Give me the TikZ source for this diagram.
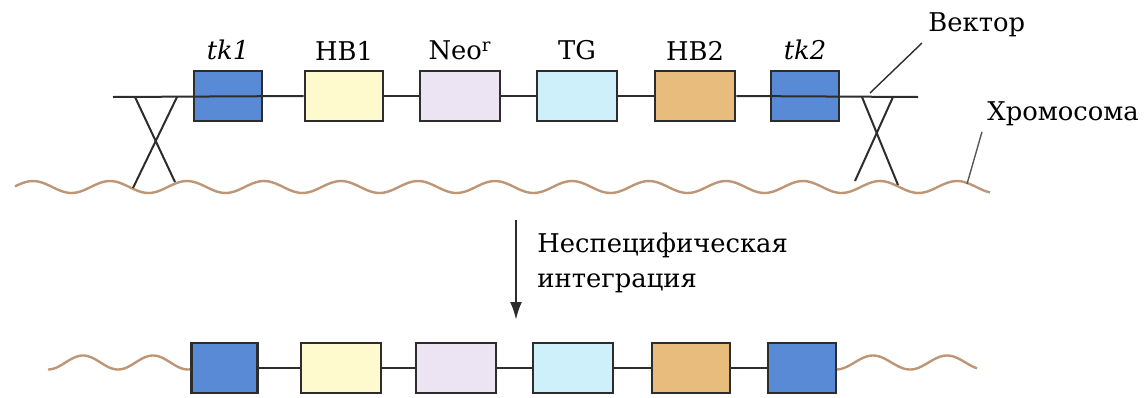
\documentclass[tikz,border=0pt]{standalone}
\usepackage{fontspec}
\setmainfont{DejaVu Serif}
\usetikzlibrary{calc,arrows.meta,positioning}

\definecolor{tkblue}{RGB}{88,138,214}
\definecolor{hbyellow}{RGB}{254,250,206}
\definecolor{neolilac}{RGB}{236,228,243}
\definecolor{tgcyan}{RGB}{206,240,250}
\definecolor{hbtan}{RGB}{231,188,124}
\definecolor{chromo}{RGB}{190,150,118}
\definecolor{edge}{RGB}{45,45,45}

\begin{document}
\begin{tikzpicture}[x=0.5pt,y=-0.5pt,
    gene/.style={draw=edge,line width=1.3pt,minimum height=25pt,inner sep=0pt},
    chrom/.style={draw=chromo,line width=1.2pt},
    lbl/.style={font=\fontsize{12.9}{17.5}\selectfont,inner sep=0pt},
    wire/.style={draw=edge,line width=1pt}]
\useasboundingbox (0,0) rectangle (1146,397);

% vector
\node[gene,fill=tkblue,minimum width=34pt]   (tkA) at (228,96) {};
\node[gene,fill=hbyellow,minimum width=39pt] (hbA) at (344,96) {};
\node[gene,fill=neolilac,minimum width=40pt] (neo) at (460,96) {};
\node[gene,fill=tgcyan,minimum width=40pt]   (tg)  at (577,96) {};
\node[gene,fill=hbtan,minimum width=40pt]    (hbB) at (695,96) {};
\node[gene,fill=tkblue,minimum width=34pt]   (tkB) at (805,96) {};
\coordinate (vl) at (113,97);
\coordinate (vr) at (918,97);
\draw[wire] (vl) -- (hbA.west);
\draw[wire] (hbA.east) -- (neo.west);
\draw[wire] (neo.east) -- (tg.west);
\draw[wire] (tg.east) -- (hbB.west);
\draw[wire] (hbB.east) -- (vr);

\node[lbl,above=4.5pt of tkA] (tkAl) {\textit{tk1}};
\node[lbl,above=4.5pt of hbA] (hbAl) {HB1};
\node[lbl,above=4.5pt of neo] (neol) {Neo\textsuperscript{r}};
\node[lbl,above=4.5pt of tg]  (tgl)  {TG};
\node[lbl,above=4.5pt of hbB] (hbBl) {HB2};
\node[lbl,above=4.5pt of tkB] (tkBl) {\textit{tk2}};

% chromosome
\draw[chrom] plot[domain=15:990,samples=300] (\x,{187-6*sin((\x-13.75)/77*360)});

% crossovers
\coordinate (xa1) at (135,97);
\coordinate (xa2) at (177,97);
\coordinate (xb1) at (133,188);
\coordinate (xb2) at (175,182);
\draw[wire] (xa1) -- (xb2);
\draw[wire] (xa2) -- (xb1);
\coordinate (xc1) at (862,97);
\coordinate (xc2) at (893,97);
\coordinate (xd1) at (855,181);
\coordinate (xd2) at (898,185);
\draw[wire] (xc1) -- (xd2);
\draw[wire] (xc2) -- (xd1);

% labels at right
\node[lbl,anchor=west] (vec) at (928,25) {Вектор};
\node[lbl,anchor=base west] (chr) at (987,120) {Хромосома};
\coordinate (vecpt) at (870,93);
\coordinate (chrpt) at (967,184);
\draw[edge,line width=0.7pt] (vecpt) -- ($(vec.west)+(-6,18)$);
\draw[edge!80,line width=0.7pt] (chrpt) -- ($(chr.south west)+(-5,6)$);

% integration arrow
\coordinate (arrtop) at (516,220);
\coordinate (arrbot) at (516,320);
\draw[wire,line width=1.2pt,-{Latex[length=9pt,width=6pt]}] (arrtop) -- (arrbot);
\node[lbl,align=left,anchor=north west] (integ) at (537,232) {Неспецифическая\\интеграция};

% after integration
\node[gene,fill=tkblue,minimum width=33pt]   (b1) at (224.5,368) {};
\node[gene,fill=hbyellow,minimum width=40pt] (b2) at (341,368) {};
\node[gene,fill=neolilac,minimum width=40pt] (b3) at (456,368) {};
\node[gene,fill=tgcyan,minimum width=40pt]   (b4) at (573,368) {};
\node[gene,fill=hbtan,minimum width=39pt]    (b5) at (691,368) {};
\node[gene,fill=tkblue,minimum width=34pt]   (b6) at (802,368) {};
\draw[wire] (b1.east) -- (b2.west);
\draw[wire] (b2.east) -- (b3.west);
\draw[wire] (b3.east) -- (b4.west);
\draw[wire] (b4.east) -- (b5.west);
\draw[wire] (b5.east) -- (b6.west);
\draw[chrom] plot[domain=48:190,samples=80] (\x,{362.5-7*sin((\x-65.5)/70*360)});
\draw[chrom] plot[domain=837:977,samples=80] (\x,{362.5-7*sin((\x-854.5)/74*360)});
\end{tikzpicture}
\end{document}
